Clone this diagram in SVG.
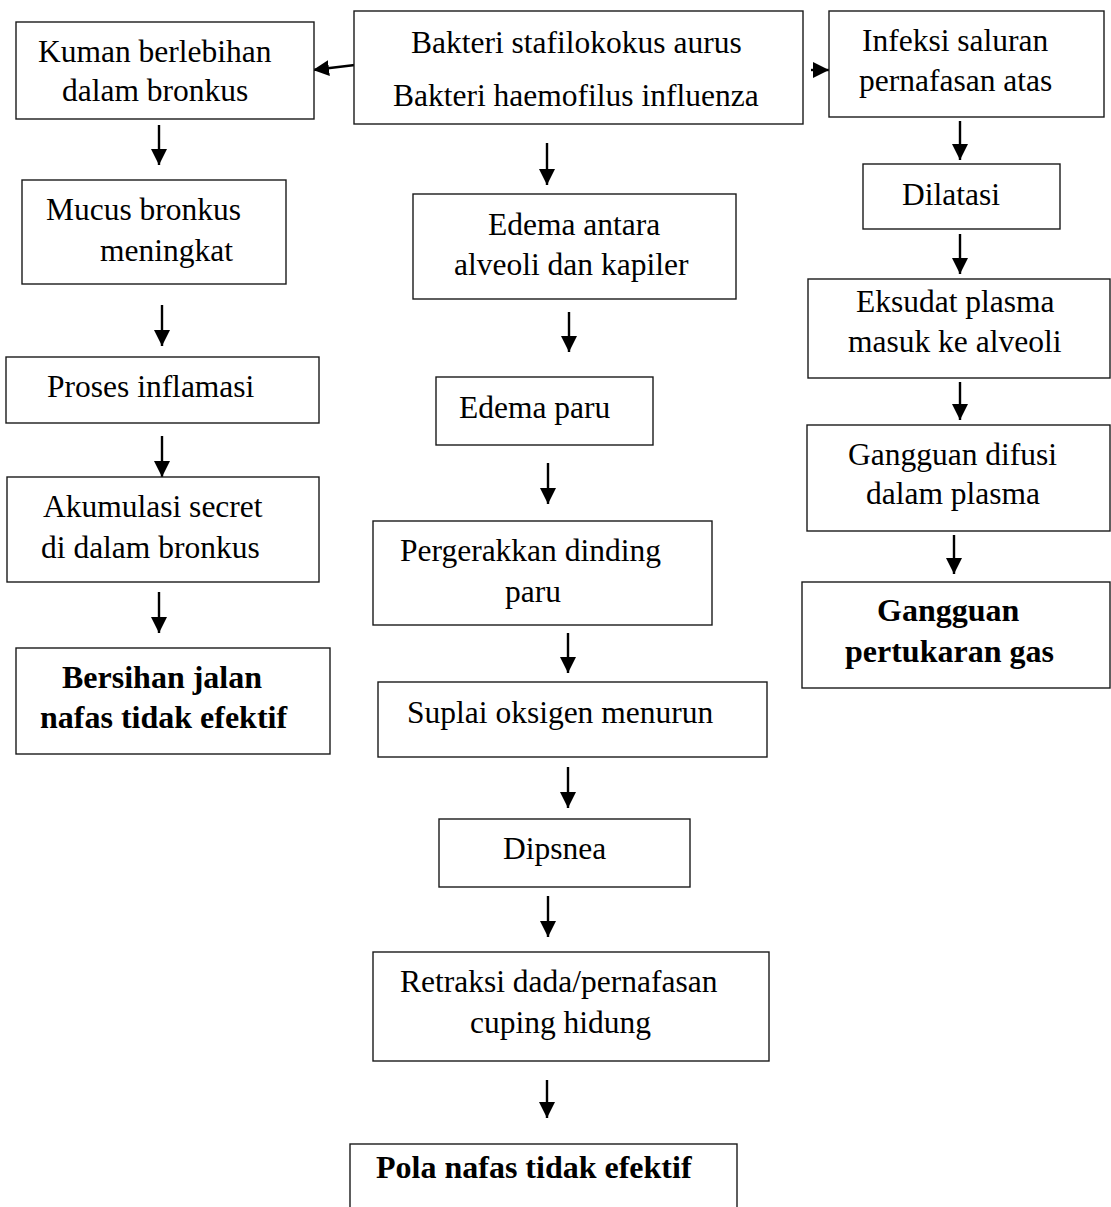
<svg xmlns="http://www.w3.org/2000/svg" width="1111" height="1207" viewBox="0 0 1111 1207">
<style>
  .box { fill: #ffffff; stroke: #1a1a1a; stroke-width: 1.4; }
  .t { font-family: "Liberation Serif", "Times New Roman", serif; font-size: 31.5px; fill: #000; }
  .b { font-family: "Liberation Serif", "Times New Roman", serif; font-size: 32px; font-weight: bold; fill: #000; }
  .arr { stroke: #000; stroke-width: 2.4; fill: none; marker-end: url(#ah); }
</style>
<defs>
  <marker id="ah" viewBox="0 0 10 10" refX="10" refY="5" markerWidth="16" markerHeight="16" markerUnits="userSpaceOnUse" orient="auto">
    <path d="M0,0 L10,5 L0,10 z" fill="#000"/>
  </marker>
</defs>
<rect width="1111" height="1207" fill="#ffffff"/>

<g id="connectors">
  <line class="arr" x1="355" y1="65" x2="313" y2="70"/>
  <line class="arr" x1="811" y1="70" x2="829" y2="70"/>
  <line class="arr" x1="159" y1="125" x2="159" y2="165"/>
  <line class="arr" x1="162" y1="305" x2="162" y2="346"/>
  <line class="arr" x1="162" y1="436" x2="162" y2="477"/>
  <line class="arr" x1="159" y1="592" x2="159" y2="633"/>
  <line class="arr" x1="547" y1="143" x2="547" y2="185"/>
  <line class="arr" x1="569" y1="312" x2="569" y2="352"/>
  <line class="arr" x1="548" y1="463" x2="548" y2="504"/>
  <line class="arr" x1="568" y1="633" x2="568" y2="673"/>
  <line class="arr" x1="568" y1="767" x2="568" y2="808"/>
  <line class="arr" x1="548" y1="896" x2="548" y2="937"/>
  <line class="arr" x1="547" y1="1080" x2="547" y2="1118"/>
  <line class="arr" x1="960" y1="121" x2="960" y2="160"/>
  <line class="arr" x1="960" y1="234" x2="960" y2="274"/>
  <line class="arr" x1="960" y1="382" x2="960" y2="420"/>
  <line class="arr" x1="954" y1="535" x2="954" y2="574"/>
</g>

<g id="n-bakteri">
  <rect class="box" x="354" y="11" width="449" height="113"/>
  <text class="t" x="411" y="53">Bakteri stafilokokus aurus</text>
  <text class="t" x="393" y="106">Bakteri haemofilus influenza</text>
</g>
<g id="n-kuman">
  <rect class="box" x="16" y="22" width="298" height="97"/>
  <text class="t" x="38" y="62">Kuman berlebihan</text>
  <text class="t" x="62" y="101">dalam bronkus</text>
</g>
<g id="n-infeksi">
  <rect class="box" x="829" y="11" width="275" height="106"/>
  <text class="t" x="862" y="51">Infeksi saluran</text>
  <text class="t" x="859" y="91">pernafasan atas</text>
</g>
<g id="n-mucus">
  <rect class="box" x="22" y="180" width="264" height="104"/>
  <text class="t" x="46" y="220">Mucus bronkus</text>
  <text class="t" x="100" y="261">meningkat</text>
</g>
<g id="n-proses">
  <rect class="box" x="6" y="357" width="313" height="66"/>
  <text class="t" x="47" y="397">Proses inflamasi</text>
</g>
<g id="n-akumulasi">
  <rect class="box" x="7" y="477" width="312" height="105"/>
  <text class="t" x="43" y="517">Akumulasi secret</text>
  <text class="t" x="41" y="558">di dalam bronkus</text>
</g>
<g id="n-bersihan">
  <rect class="box" x="16" y="648" width="314" height="106"/>
  <text class="b" x="62" y="688">Bersihan jalan</text>
  <text class="b" x="40" y="728">nafas tidak efektif</text>
</g>
<g id="n-edema-antara">
  <rect class="box" x="413" y="194" width="323" height="105"/>
  <text class="t" x="488" y="235">Edema antara</text>
  <text class="t" x="454" y="275">alveoli dan kapiler</text>
</g>
<g id="n-edema-paru">
  <rect class="box" x="436" y="377" width="217" height="68"/>
  <text class="t" x="459" y="418">Edema paru</text>
</g>
<g id="n-pergerakkan">
  <rect class="box" x="373" y="521" width="339" height="104"/>
  <text class="t" x="400" y="561">Pergerakkan dinding</text>
  <text class="t" x="505" y="602">paru</text>
</g>
<g id="n-suplai">
  <rect class="box" x="378" y="682" width="389" height="75"/>
  <text class="t" x="407" y="723">Suplai oksigen menurun</text>
</g>
<g id="n-dipsnea">
  <rect class="box" x="439" y="819" width="251" height="68"/>
  <text class="t" x="503" y="859">Dipsnea</text>
</g>
<g id="n-retraksi">
  <rect class="box" x="373" y="952" width="396" height="109"/>
  <text class="t" x="400" y="992">Retraksi dada/pernafasan</text>
  <text class="t" x="470" y="1033">cuping hidung</text>
</g>
<g id="n-pola">
  <rect class="box" x="350" y="1144" width="387" height="80"/>
  <text class="b" x="376" y="1178">Pola nafas tidak efektif</text>
</g>
<g id="n-dilatasi">
  <rect class="box" x="863" y="164" width="197" height="65"/>
  <text class="t" x="902" y="205">Dilatasi</text>
</g>
<g id="n-eksudat">
  <rect class="box" x="808" y="279" width="302" height="99"/>
  <text class="t" x="856" y="312">Eksudat plasma</text>
  <text class="t" x="848" y="352">masuk ke alveoli</text>
</g>
<g id="n-gangguan-difusi">
  <rect class="box" x="807" y="425" width="303" height="106"/>
  <text class="t" x="848" y="465">Gangguan difusi</text>
  <text class="t" x="866" y="504">dalam plasma</text>
</g>
<g id="n-gangguan-gas">
  <rect class="box" x="802" y="582" width="308" height="106"/>
  <text class="b" x="877" y="621">Gangguan</text>
  <text class="b" x="845" y="662">pertukaran gas</text>
</g>
</svg>
